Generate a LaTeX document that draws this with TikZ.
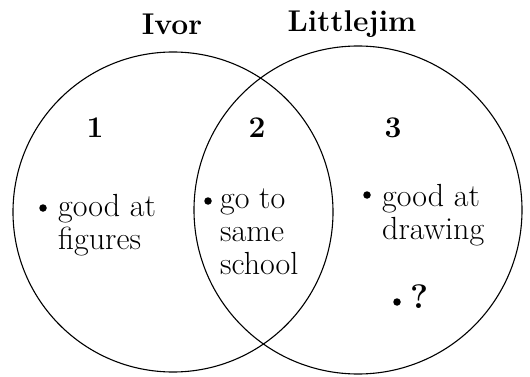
\documentclass[tikz,border=0pt]{standalone}
\usetikzlibrary{positioning}
\tikzset{
  setname/.style={font=\bfseries\fontsize{30}{33}\selectfont},
  regnum/.style={font=\bfseries\fontsize{30}{33}\selectfont},
  item/.style={font=\fontsize{32}{33}\selectfont, align=left, inner sep=0pt, anchor=base west},
  dot/.style={circle, fill, inner sep=0pt, minimum size=7.5pt},
}
\begin{document}
\begin{tikzpicture}[x=1pt, y=-1pt,
  set/.style={circle, draw, line width=1.1pt, inner sep=0pt}]
\fill[white] (0,0) rectangle (530,377);
\useasboundingbox (0,0) rectangle (530,377);

% ---- the two sets ----
\node[set, minimum size=320pt] (ivor) at (173,212) {};
\node[set, minimum size=328pt] (ljim) at (358,210) {};
\node[setname] (ivorname) at (172,24) {Ivor};
\node[setname] (ljimname) at (352,24) {Littlejim};

% ---- region numbers ----
\node[regnum] (r1) at (95,128) {1};
\node[regnum] (r2) at (257,128) {2};
\node[regnum] (r3) at (393,128) {3};

% ---- items (base = last line) ----
\node[item] (figures) at (58,249) {good at\\figures};
\node[dot] (figdot) at (43,208) {};
\node[item] (school) at (220,274) {go to\\same\\school};
\node[dot] (schdot) at (208,201) {};
\node[item] (drawing) at (382,239) {good at\\drawing};
\node[dot] (drwdot) at (367,195) {};
\node[item, font=\bfseries\fontsize{34}{33}\selectfont] (query) at (410,308) {?};
\node[dot] (qdot) at (397,302) {};

\end{tikzpicture}
\end{document}
